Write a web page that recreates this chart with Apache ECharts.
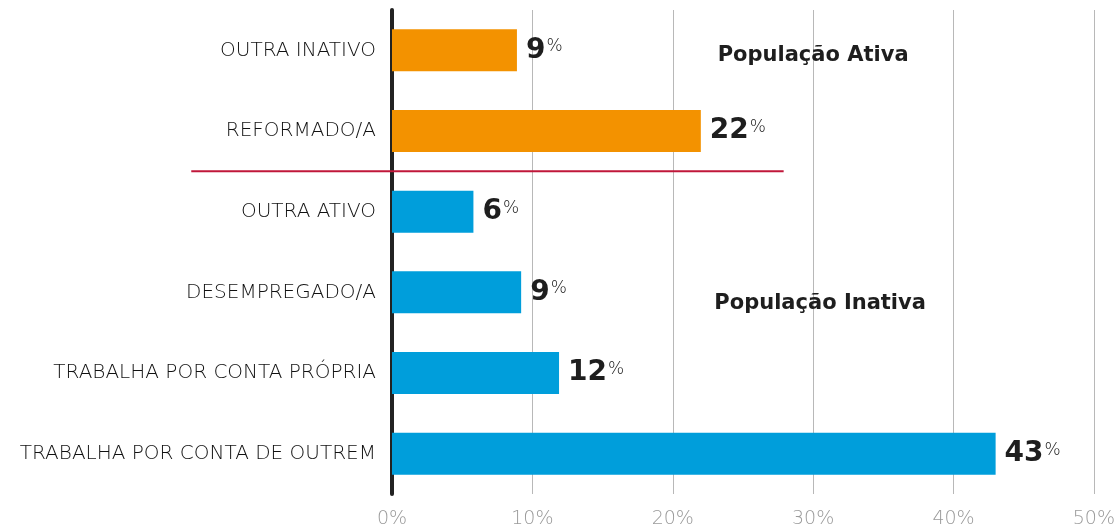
<!DOCTYPE html>
<html>
<head>
<meta charset="utf-8">
<script src="https://cdn.jsdelivr.net/npm/echarts@6/dist/echarts.min.js"></script>
<style>html,body{margin:0;padding:0;background:#fff}#c{width:1118px;height:529px}</style>
</head>
<body>
<div id="c"></div>
<script>
const categories = ['OUTRA INATIVO', 'REFORMADO/A', 'OUTRA ATIVO', 'DESEMPREGADO/A', 'TRABALHA POR CONTA PRÓPRIA', 'TRABALHA POR CONTA DE OUTREM'];
const values = [8.9, 22.0, 5.8, 9.2, 11.9, 43.0];
const groups = ['inativa', 'inativa', 'ativa', 'ativa', 'ativa', 'ativa'];
const groupColors = { inativa: '#F39200', ativa: '#009EDB' };
const xTicks = [0, 10, 20, 30, 40, 50];
const annotations = [
  { text: 'População Ativa', x: 30.0, cat: 'OUTRA INATIVO', dy: 5 },
  { text: 'População Inativa', x: 30.5, cat: 'DESEMPREGADO/A', dy: 11 }
];
const separator = { after: 'REFORMADO/A', from: -14.3, to: 27.9 };

const chart = echarts.init(document.getElementById('c'), null, { renderer: 'canvas' });
const font = '"DejaVu Sans", sans-serif';

const option = {
  animation: false,
  grid: { left: 392, right: 24, top: 10, bottom: 34, containLabel: false },
  xAxis: {
    type: 'value', min: xTicks[0], max: xTicks[xTicks.length - 1], interval: xTicks[1] - xTicks[0],
    axisLine: { show: false }, axisTick: { show: false },
    splitLine: { show: true, lineStyle: { color: '#b8b8b8', width: 1 } },
    axisLabel: { formatter: '{value}%', color: '#9a9a9a', fontSize: 19, fontFamily: font, fontWeight: 200, margin: 16 }
  },
  yAxis: {
    type: 'category', data: categories, inverse: true, offset: 3,
    axisLine: { show: true, lineStyle: { color: '#222', width: 4 } },
    axisTick: { show: false },
    axisLabel: { color: '#111', fontSize: 20, fontFamily: font, fontWeight: 200, margin: 13 }
  },
  series: [{
    type: 'bar',
    barWidth: 42,
    data: values.map((v, i) => ({ value: v, itemStyle: { color: groupColors[groups[i]] } })),
    label: {
      show: true, position: 'right', distance: 9,
      formatter: p => '{v|' + Math.round(p.value) + '}{p|%}',
      rich: {
        v: { fontSize: 28, fontWeight: 'bold', color: '#1e1e1e', fontFamily: font, lineHeight: 30 },
        p: { fontSize: 17, color: '#222', fontFamily: font, fontWeight: 200, verticalAlign: 'top', lineHeight: 30, padding: [3, 0, 0, 1] }
      }
    },
    markPoint: {
      symbol: 'circle', symbolSize: 0, silent: true,
      data: annotations.map(a => ({
        coord: [a.x, a.cat],
        label: {
          show: true, formatter: a.text, position: 'inside', offset: [0, a.dy],
          fontSize: 21, fontWeight: 'bold', color: '#1e1e1e', fontFamily: font
        }
      }))
    }
  }]
};
chart.setOption(option);

function drawSeparator() {
  const idx = categories.indexOf(separator.after);
  const y1 = chart.convertToPixel({ gridIndex: 0 }, [0, categories[idx]])[1];
  const y2 = chart.convertToPixel({ gridIndex: 0 }, [0, categories[idx + 1]])[1];
  const x1 = chart.convertToPixel({ gridIndex: 0 }, [separator.from, categories[idx]])[0];
  const x2 = chart.convertToPixel({ gridIndex: 0 }, [separator.to, categories[idx]])[0];
  const y = (y1 + y2) / 2;
  chart.setOption({
    graphic: [{
      type: 'line', z: 100,
      shape: { x1: x1, y1: y, x2: x2, y2: y },
      style: { stroke: '#C0173A', lineWidth: 2 }
    }]
  });
}
drawSeparator();
</script>
</body>
</html>
